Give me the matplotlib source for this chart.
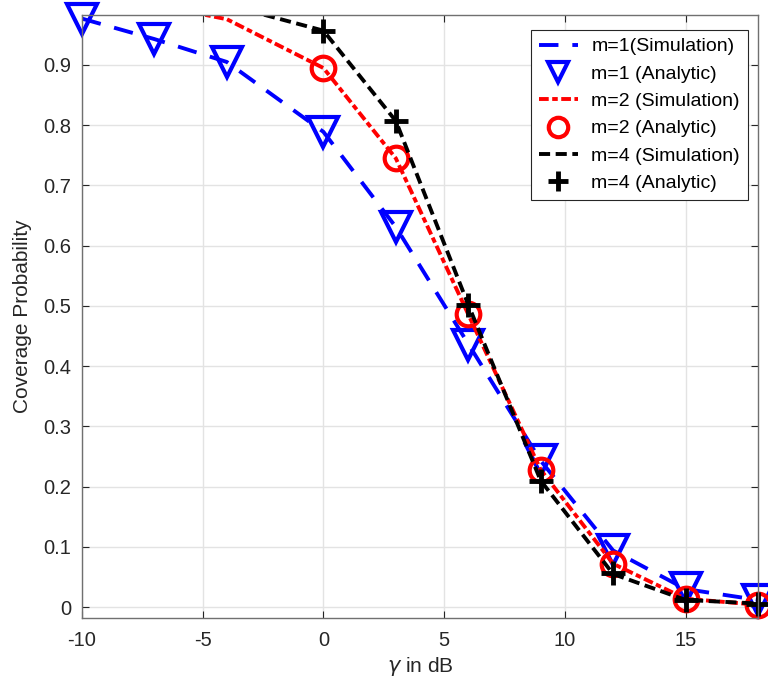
import numpy as np
import matplotlib.pyplot as plt

plt.rcParams['font.family'] = ['Liberation Sans', 'DejaVu Sans']
plt.rcParams['lines.scale_dashes'] = False
plt.rcParams['axes.unicode_minus'] = False

gamma_db = [-10, -7, -4, 0, 3, 6, 9, 12, 15, 18]

# m=1
sim_m1 = [0.977, 0.943, 0.905, 0.789, 0.631, 0.437, 0.243, 0.094, 0.030, 0.012]
ana_m1 = [0.977, 0.943, 0.905, 0.789, 0.631, 0.435, 0.245, 0.095, 0.031, 0.012]
# m=2
sim_m2 = [1.0, 1.0, 0.976, 0.895, 0.745, 0.486, 0.228, 0.072, 0.014, 0.004]
ana_m2_x = [0, 3, 6, 9, 12, 15, 18]
ana_m2 = [0.895, 0.745, 0.486, 0.228, 0.072, 0.013, 0.003]
# m=4
sim_m4 = [1.0, 1.0, 1.0, 0.957, 0.807, 0.502, 0.210, 0.055, 0.012, 0.006]
ana_m4_x = [0, 3, 6, 9, 12, 15, 18]
ana_m4 = [0.957, 0.807, 0.502, 0.210, 0.056, 0.012, 0.006]

fig = plt.figure(figsize=(7.68, 6.85), dpi=100)
ax = fig.add_axes([82 / 768, 1 - 618 / 685, 676 / 768, 603 / 685])

lw = 2.8
l1, = ax.plot(gamma_db, sim_m1, color='blue', lw=lw, dashes=(14, 10))
a1, = ax.plot(gamma_db, ana_m1, color='blue', ls='none', marker='v', ms=21,
              mfc='none', mew=3, clip_on=False)
l2, = ax.plot(gamma_db, sim_m2, color='red', lw=lw, dashes=(7, 2.5, 4, 2.5))
a2, = ax.plot(ana_m2_x, ana_m2, color='red', ls='none', marker='o', ms=17,
              mfc='none', mew=3, clip_on=False)
l4, = ax.plot(gamma_db, sim_m4, color='black', lw=lw, dashes=(8, 4))
a4, = ax.plot(ana_m4_x, ana_m4, color='black', ls='none', marker='+', ms=17,
              mew=3.5, clip_on=False)

ax.set_xlim(-10, 18)
ax.set_ylim(-0.018, 0.983)
ax.set_xticks([-10, -5, 0, 5, 10, 15])
ax.set_yticks(np.arange(0, 1.0, 0.1))
ax.set_yticklabels(['0', '0.1', '0.2', '0.3', '0.4', '0.5', '0.6', '0.7', '0.8', '0.9'])
ax.grid(True, color='#e3e3e3', lw=1)
ax.set_axisbelow(True)
ax.tick_params(direction='in', length=5, top=True, right=True, labelsize=14.5,
               colors='#262626')
ax.tick_params(axis='x', pad=9)
ax.tick_params(axis='y', pad=8)
for s in ax.spines.values():
    s.set_color('#707070')
    s.set_linewidth(1)

ax.set_xlabel('$\\gamma$ in dB', fontsize=15, color='#262626', labelpad=4)
ax.set_ylabel('Coverage Probability', fontsize=15, color='#262626', labelpad=8)

leg = ax.legend([l1, a1, l2, a2, l4, a4],
                ['m=1(Simulation)', 'm=1 (Analytic)', 'm=2 (Simulation)',
                 'm=2 (Analytic)', 'm=4 (Simulation)', 'm=4 (Analytic)'],
                loc='upper right', bbox_to_anchor=(0.985, 0.975), borderaxespad=0,
                fontsize=14, fancybox=False, edgecolor='#262626', framealpha=1,
                numpoints=1, handlelength=2.0, labelspacing=0.5, borderpad=0.4,
                handletextpad=0.7)
leg.get_frame().set_linewidth(0.8)
for h in leg.legend_handles:
    if h.get_marker() not in ('None', None, ''):
        h.set_markersize(14)

fig.savefig('out.png', dpi=100)
